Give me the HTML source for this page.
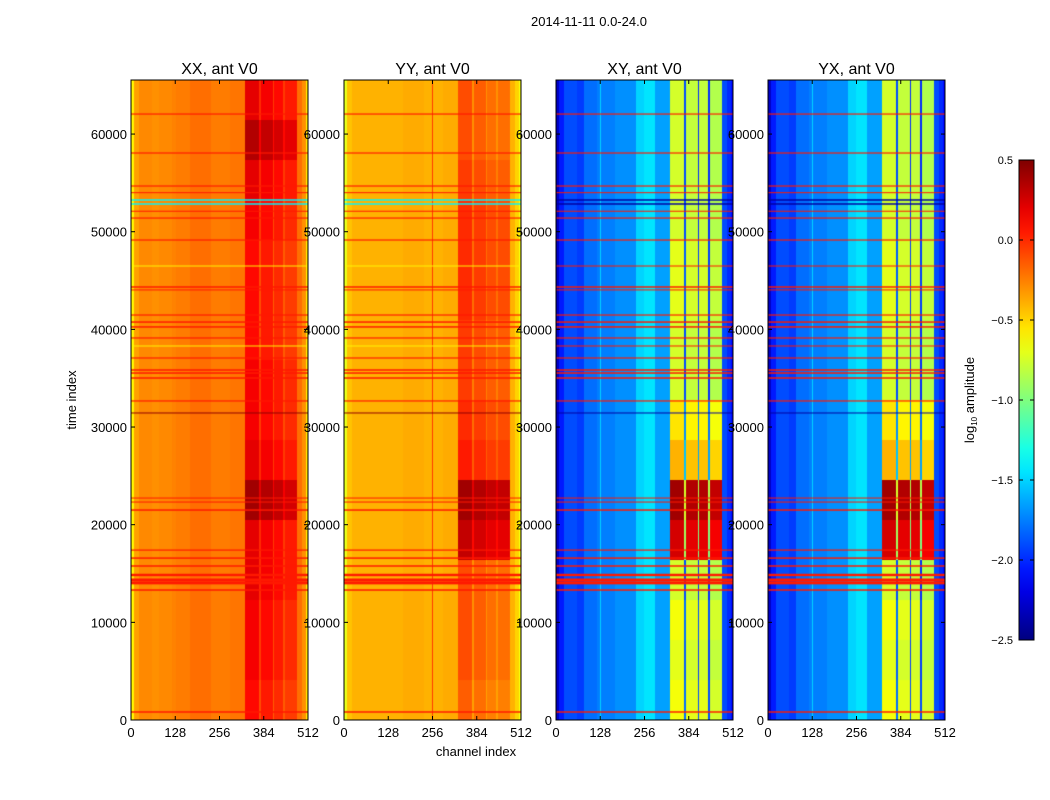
<!DOCTYPE html>
<html><head><meta charset="utf-8">
<style>
body{margin:0;background:#fff;}
#root{position:relative;width:1050px;height:800px;font-family:"Liberation Sans","DejaVu Sans",sans-serif;color:#000;overflow:hidden;}
.t{position:absolute;white-space:nowrap;font-size:13px;}
</style></head>
<body>
<div id="root">
<div class="t" style="left:489px;top:14px;width:200px;text-align:center;">2014-11-11 0.0-24.0</div>
<svg id="svg" width="1050" height="800" style="position:absolute;left:0;top:0"></svg>
</div>
<script>
// ---- data ----
const chanEdges=[0,8,24,60,80,120,126,130,170,230,254,258,285,330,370,376,410,415,440,445,480,495,505,512];
const chanXX=[-0.6,-0.35,-0.28,-0.3,-0.28,-0.26,-0.26,-0.24,-0.2,-0.24,-0.24,-0.24,-0.22,0.1,-0.1,0.05,-0.15,0.0,-0.15,-0.05,-0.2,-0.3,-0.55];
const chanYY=[-0.7,-0.45,-0.4,-0.4,-0.4,-0.4,-0.4,-0.4,-0.38,-0.4,-0.05,-0.4,-0.38,-0.1,-0.3,-0.15,-0.3,-0.2,-0.3,-0.2,-0.4,-0.5,-0.65];
const chanXY=[-2.3,-2.05,-1.9,-1.95,-1.8,-1.75,-1.5,-1.75,-1.7,-1.5,-1.45,-1.45,-1.65,-0.75,-1.9,-0.8,-2.0,-0.8,-2.0,-0.85,-1.9,-2.0,-2.1];
const chanYX=[-2.3,-2.05,-1.9,-1.95,-1.8,-1.75,-1.5,-1.75,-1.7,-1.5,-1.45,-1.45,-1.65,-0.75,-1.9,-0.8,-2.0,-0.8,-2.0,-0.85,-1.9,-2.0,-2.1];
const bandRange=[330,480];
const boostXX=[0,0.05,0.05,0.1,0.1,0.3,0.1,0.05,0.05,0,0,0,0.05,0.1,0.25,0.1];
const boostYY=[-0.05,0,0,0,0.4,0.5,0.15,0.1,0.05,0.05,0.1,0.1,0.1,0.05,0,0];
const boostXY=[0.1,0.05,0.1,0,1.0,1.15,0.35,0.2,0,0,0.05,0.05,0,0,0,0];
const boostYX=[0.1,0.05,0.1,0,1.0,1.15,0.35,0.2,0,0,0.05,0.05,0,0,0,0];
const flagTimes=[62050,58060,54680,54000,53250,52840,52100,51400,49150,46490,44340,44040,41470,40750,40250,39120,38300,37070,35840,35530,35020,32670,31440,22730,22320,21500,17400,16580,15770,14850,14340,14040,13310,820];
const flagWidths=[120,120,120,100,150,150,100,120,120,100,150,100,120,150,150,120,100,120,150,150,150,120,100,100,100,150,120,150,150,250,300,300,150,150];
const flagKind=[0,0,0,0,1,1,0,0,0,2,0,0,0,0,0,0,2,0,0,0,0,0,3,0,0,0,0,0,0,0,0,0,0,0];
const panelNames=["XX","YY","XY","YX"];
const panelLefts=[131,344,556,768];
const xTicks=[0,128,256,384,512];
const yTicks=[0,10000,20000,30000,40000,50000,60000];
const cbTicks=[0.5,0.0,-0.5,-1.0,-1.5,-2.0,-2.5];
// ---- layout ----
const PW=177,TOP=80,BOT=720,TMAX=65536,VMIN=-2.5,VMAX=0.5;
const xs=c=>c/512*PW, ys=t=>BOT-t/TMAX*(BOT-TOP);
function jet(v){let x=(v-VMIN)/(VMAX-VMIN);x=Math.max(0,Math.min(1,x));
 const f=(a)=>Math.max(0,Math.min(1,a));
 const r=f(1.5-Math.abs(4*x-3)),g=f(1.5-Math.abs(4*x-2)),b=f(1.5-Math.abs(4*x-1));
 return [r*255|0,g*255|0,b*255|0];}
const NS="http://www.w3.org/2000/svg";
const svg=document.getElementById('svg');
function el(tag,attrs,parent){const e=document.createElementNS(NS,tag);for(const k in attrs)e.setAttribute(k,attrs[k]);(parent||svg).appendChild(e);return e;}
const chans=[chanXX,chanYY,chanXY,chanYX],boosts=[boostXX,boostYY,boostXY,boostYX];
function chanVal(p,c){for(let i=0;i<chanEdges.length-1;i++)if(c>=chanEdges[i]&&c<chanEdges[i+1])return chans[p][i];return chans[p][chans[p].length-1];}
function flagVal(p,k){if(k===0)return 0.05;if(k===1)return p<2?-1.4:-2.4;if(k===2)return p<2?-0.6:0.05;return p<2?0.45:-2.4;}
for(let p=0;p<4;p++){
 const L=panelLefts[p];
 const cv=document.createElement('canvas');cv.width=PW;cv.height=BOT-TOP;
 cv.style.cssText=`position:absolute;left:${L}px;top:${TOP}px;`;
 
 
 document.getElementById('root').insertBefore(cv,svg);
 const ctx=cv.getContext('2d');const img=ctx.createImageData(PW,BOT-TOP);
 for(let y=0;y<BOT-TOP;y++){const t=(BOT-TOP-y-0.5)/(BOT-TOP)*TMAX;const bi=Math.min(15,Math.floor(t/4096));
  for(let x=0;x<PW;x++){const c=(x+0.5)/PW*512;let v=chanVal(p,c);
   if(c>=bandRange[0]&&c<bandRange[1])v+=boosts[p][bi];
   const col=jet(v);const o=(y*PW+x)*4;img.data[o]=col[0];img.data[o+1]=col[1];img.data[o+2]=col[2];img.data[o+3]=255;}}
 ctx.putImageData(img,0,0);
 for(let i=0;i<flagTimes.length;i++){const y0=ys(flagTimes[i]+flagWidths[i]/2)-TOP,y1=ys(flagTimes[i]-flagWidths[i]/2)-TOP;
  const col=jet(flagVal(p,flagKind[i]));ctx.fillStyle=`rgb(${col})`;ctx.fillRect(0,y0,PW,Math.max(1,y1-y0));}
 const g=el('g',{});
 const fr=el('rect',{x:L,y:TOP,width:PW,height:BOT-TOP,fill:'none',stroke:'#000','stroke-width':1},g);
 
 const tt=el('text',{x:L+PW/2,y:74,'text-anchor':'middle','font-size':16},g);tt.textContent=panelNames[p]+', ant V0';
 
 xTicks.forEach(v=>{const x=L+xs(v);el('line',{x1:x,x2:x,y1:BOT,y2:BOT-4,stroke:'#000'},g);el('line',{x1:x,x2:x,y1:TOP,y2:TOP+4,stroke:'#000'},g);
  const t=el('text',{x:x,y:BOT+17,'text-anchor':'middle','font-size':13},g);t.textContent=v;
  });
 yTicks.forEach(v=>{const y=ys(v);el('line',{x1:L,x2:L+4,y1:y,y2:y,stroke:'#000'},g);el('line',{x1:L+PW,x2:L+PW-4,y1:y,y2:y,stroke:'#000'},g);
  const t=el('text',{x:L-4,y:y+5,'text-anchor':'end','font-size':13},g);t.textContent=v;
  });
}
let t=el('text',{x:76,y:400,'text-anchor':'middle','font-size':13,transform:'rotate(-90 76 400)'});t.textContent='time index';

t=el('text',{x:476,y:756,'text-anchor':'middle','font-size':13});t.textContent='channel index';

// colorbar
const CBX=1019,CBW=15,CBT=160,CBB=640;
const defs=el('defs',{});const lg=el('linearGradient',{id:'jg',x1:0,y1:1,x2:0,y2:0},defs);
for(let i=0;i<=20;i++){const v=VMIN+(VMAX-VMIN)*i/20;el('stop',{offset:i/20,'stop-color':`rgb(${jet(v)})`},lg);}
const cb=el('rect',{x:CBX,y:CBT,width:CBW,height:CBB-CBT,fill:'url(#jg)',stroke:'#000','stroke-width':1});

cbTicks.forEach(v=>{const y=CBB-(v-VMIN)/(VMAX-VMIN)*(CBB-CBT);
 el('line',{x1:CBX,x2:CBX+4,y1:y,y2:y,stroke:'#000'});el('line',{x1:CBX+CBW,x2:CBX+CBW-4,y1:y,y2:y,stroke:'#000'});
 const tx=el('text',{x:1013,y:y+4,'text-anchor':'end','font-size':11});tx.textContent=(v<0?'\u2212':'')+Math.abs(v).toFixed(1);
 });
t=el('text',{x:974,y:400,'text-anchor':'middle','font-size':13,transform:'rotate(-90 974 400)'});
t.innerHTML='log<tspan font-size="8" dy="3">10</tspan><tspan dy="-3"> amplitude</tspan>';

</script>
</body></html>
